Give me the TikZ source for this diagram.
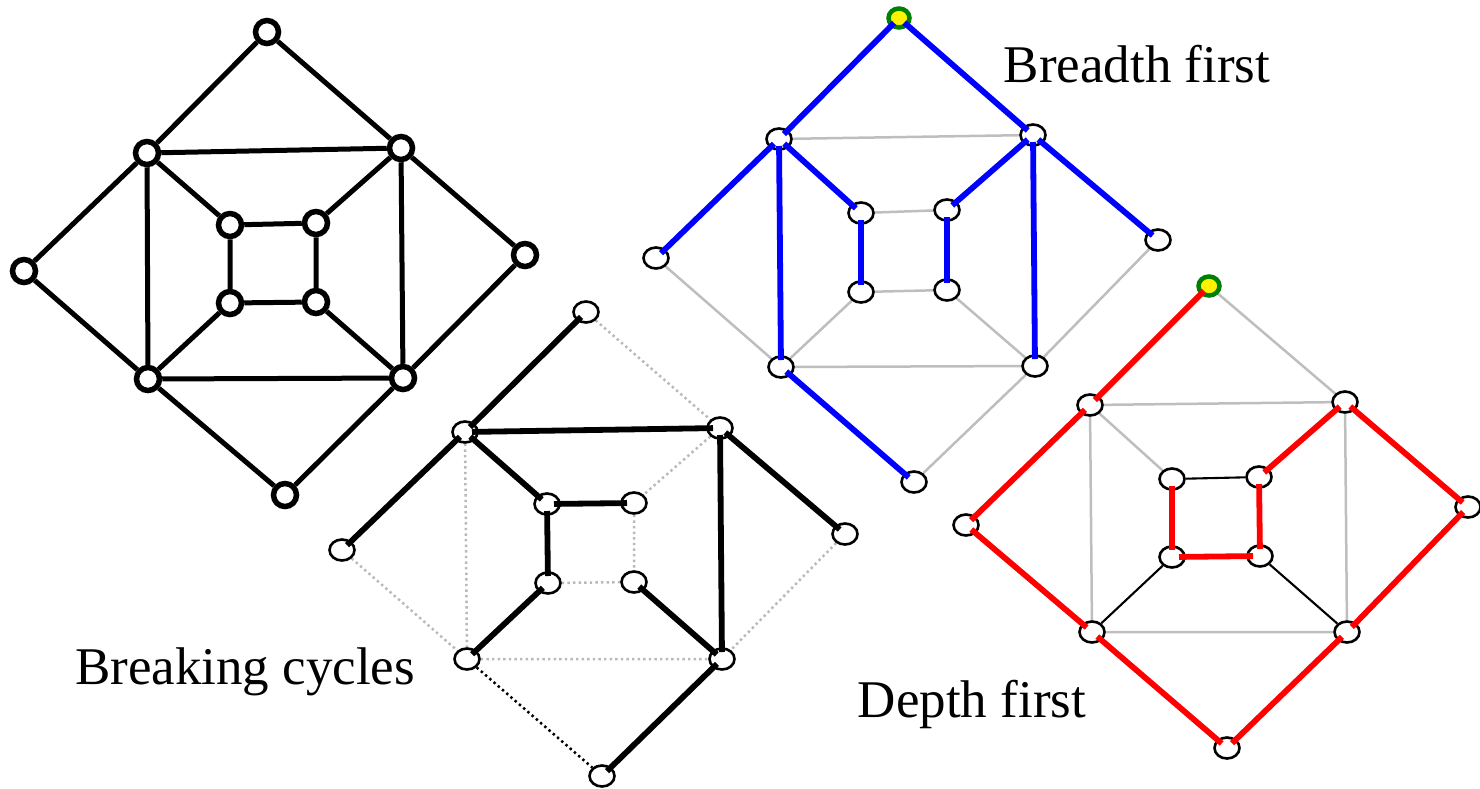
\documentclass[tikz,border=0pt]{standalone}
\usepackage{fontspec}
\setmainfont{Liberation Serif}
\usetikzlibrary{shapes.geometric}
\pgfdeclarelayer{background}
\pgfdeclarelayer{foreground}
\pgfsetlayers{background,main,foreground}
\definecolor{edgegray}{RGB}{190,190,190}
\definecolor{dotgray}{RGB}{185,185,185}
\definecolor{startgreen}{RGB}{0,128,0}
\tikzset{
  bold vertex/.style={circle, draw=black, fill=white, line width=5.5pt, minimum size=23pt, inner sep=0pt},
  vertex/.style={ellipse, draw=black, fill=white, line width=2.6pt, minimum width=25pt, minimum height=21pt, inner sep=0pt},
  start vertex/.style={ellipse, draw=startgreen, fill=yellow, line width=4.5pt, minimum width=21pt, minimum height=19pt, inner sep=0pt},
  bold edge/.style={line width=5pt, black},
  tree edge/.style={line width=5.8pt, shorten <=7pt, shorten >=7pt},
  gray edge/.style={line width=2.5pt, edgegray},
  thin edge/.style={line width=2.1pt, black},
  dropped edge/.style={line width=2.5pt, dotgray, dash pattern=on 2.4pt off 3.2pt},
  cut edge/.style={line width=2.5pt, black, dash pattern=on 2.4pt off 3.2pt},
  caption/.style={font=\fontsize{53}{60}\selectfont, inner sep=0pt}
}
\begin{document}
\begin{tikzpicture}[x=1pt, y=-1pt]
\useasboundingbox (0,0) rectangle (1480,788);

% ---------- full graph ----------
\foreach \n/\x/\y in {aT/267/32, aL/24/271, aR/525/255, aB/285/495,
    aTL/147/153, aTR/401/148, aBL/148/379, aBR/403/378,
    aiTL/230/225, aiTR/316/223, aiBL/230/303, aiBR/316/302}
  \node[bold vertex] (\n) at (\x,\y) {};
\begin{pgfonlayer}{background}
  \draw[bold edge] (aT) -- (aTL) (aT) -- (aTR) (aL) -- (aTL) (aL) -- (aBL)
    (aR) -- (aTR) (aR) -- (aBR) (aB) -- (aBL) (aB) -- (aBR)
    (aTL) -- (aTR) (aTR) -- (aBR) (aBR) -- (aBL) (aBL) -- (aTL)
    (aiTL) -- (aiTR) (aiTR) -- (aiBR) (aiBR) -- (aiBL) (aiBL) -- (aiTL)
    (aTL) -- (aiTL) (aTR) -- (aiTR) (aBL) -- (aiBL) (aBR) -- (aiBR);
\end{pgfonlayer}

% ---------- breaking cycles ----------
\foreach \n/\x/\y in {bT/586/312, bL/342/550, bR/845/534, bB/602/776,
    bTL/465/432, bTR/720/428, bBL/467/659, bBR/722/659,
    biTL/547/504, biTR/634/503, biBL/548/583, biBR/634/582}
  \node[vertex] (\n) at (\x,\y) {};
\begin{pgfonlayer}{background}
  \draw[dropped edge] (bT) -- (bTR) (bTL) -- (bBL) (bTR) -- (biTR)
    (biTR) -- (biBR) (biBL) -- (biBR) (bBL) -- (bBR)
    (bL) -- (bBL) (bR) -- (bBR);
  \draw[cut edge] (bBL) -- (bB);
\end{pgfonlayer}
\begin{pgfonlayer}{foreground}
  \draw[tree edge, black] (bT.center) -- (bTL.center);
  \draw[tree edge, black] (bTL.center) -- (bL.center);
  \draw[tree edge, black] (bTL.center) -- (bTR.center);
  \draw[tree edge, black] (bTL.center) -- (biTL.center);
  \draw[tree edge, black] (bTR.center) -- (bR.center);
  \draw[tree edge, black] (bTR.center) -- (bBR.center);
  \draw[tree edge, black] (biTL.center) -- (biTR.center);
  \draw[tree edge, black] (biTL.center) -- (biBL.center);
  \draw[tree edge, black] (biBL.center) -- (bBL.center);
  \draw[tree edge, black] (biBR.center) -- (bBR.center);
  \draw[tree edge, black] (bBR.center) -- (bB.center);
\end{pgfonlayer}

% ---------- breadth first ----------
\foreach \n/\x/\y in {cL/656/258, cR/1158/240, cB/914/482,
    cTL/779/139, cTR/1033/135, cBL/781/367, cBR/1035/366,
    ciTL/861/213, ciTR/947/210, ciBL/861/292, ciBR/947/290}
  \node[vertex] (\n) at (\x,\y) {};
\node[start vertex] (cT) at (899,18) {};
\begin{pgfonlayer}{background}
  \draw[gray edge] (cTL) -- (cTR) (ciTL) -- (ciTR) (ciBL) -- (ciBR)
    (cBL) -- (cBR) (ciBL) -- (cBL) (ciBR) -- (cBR)
    (cL) -- (cBL) (cR) -- (cBR) (cBR) -- (cB);
\end{pgfonlayer}
\begin{pgfonlayer}{foreground}
  \draw[tree edge, blue] (cT.center) -- (cTL.center);
  \draw[tree edge, blue] (cT.center) -- (cTR.center);
  \draw[tree edge, blue] (cTL.center) -- (cL.center);
  \draw[tree edge, blue] (cTR.center) -- (cR.center);
  \draw[tree edge, blue] (cTL.center) -- (cBL.center);
  \draw[tree edge, blue] (cTR.center) -- (cBR.center);
  \draw[tree edge, blue] (cTL.center) -- (ciTL.center);
  \draw[tree edge, blue] (cTR.center) -- (ciTR.center);
  \draw[tree edge, blue] (ciTL.center) -- (ciBL.center);
  \draw[tree edge, blue] (ciTR.center) -- (ciBR.center);
  \draw[tree edge, blue] (cBL.center) -- (cB.center);
\end{pgfonlayer}

% ---------- depth first ----------
\foreach \n/\x/\y in {dL/966/525, dR/1468/507, dB/1227/748,
    dTL/1090/405, dTR/1345/402, dBL/1092/632, dBR/1347/632,
    diTL/1172/479, diTR/1259/477, diBL/1172/557, diBR/1260/556}
  \node[vertex] (\n) at (\x,\y) {};
\node[start vertex] (dT) at (1209,286) {};
\begin{pgfonlayer}{background}
  \draw[gray edge] (dT) -- (dTR) (dTL) -- (dTR) (dTL) -- (dBL)
    (dTR) -- (dBR) (dBL) -- (dBR) (dTL) -- (diTL);
  \draw[thin edge] (diTL) -- (diTR) (diBL) -- (dBL) (diBR) -- (dBR);
\end{pgfonlayer}
\begin{pgfonlayer}{foreground}
  \draw[tree edge, red] (dT.center) -- (dTL.center);
  \draw[tree edge, red] (dTL.center) -- (dL.center);
  \draw[tree edge, red] (dL.center) -- (dBL.center);
  \draw[tree edge, red] (dBL.center) -- (dB.center);
  \draw[tree edge, red] (dB.center) -- (dBR.center);
  \draw[tree edge, red] (dBR.center) -- (dR.center);
  \draw[tree edge, red] (dR.center) -- (dTR.center);
  \draw[tree edge, red] (dTR.center) -- (diTR.center);
  \draw[tree edge, red] (diTR.center) -- (diBR.center);
  \draw[tree edge, red] (diBR.center) -- (diBL.center);
  \draw[tree edge, red] (diBL.center) -- (diTL.center);
\end{pgfonlayer}

\node[caption] (lblBreadth) at (1137,64) {Breadth first};
\node[caption] (lblCycles) at (245,672) {Breaking cycles};
\node[caption] (lblDepth) at (972,704) {Depth first};
\end{tikzpicture}
\end{document}
